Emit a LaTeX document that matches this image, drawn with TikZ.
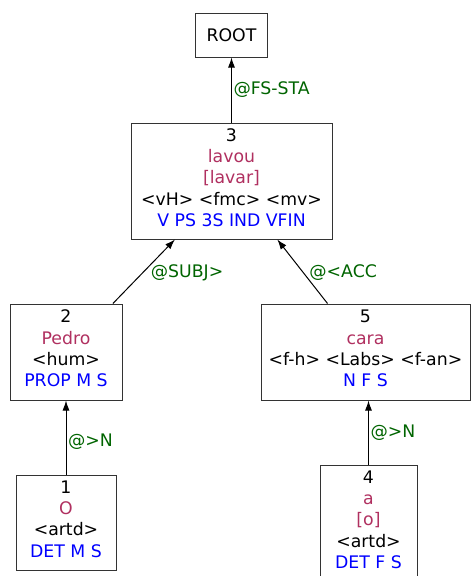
\documentclass[tikz,border=0pt]{standalone}
\usepackage{fontspec}
\setmainfont{DejaVu Sans}
\usetikzlibrary{arrows.meta}
\definecolor{wordc}{HTML}{B03060}
\definecolor{tagc}{HTML}{0000FF}
\definecolor{relc}{HTML}{006400}
\newcommand{\tokword}[1]{\textcolor{wordc}{#1}}
\newcommand{\toktag}[1]{\textcolor{tagc}{#1}\rule[-7pt]{0pt}{1pt}}
\begin{document}
\begin{tikzpicture}[x=1pt, y=-1pt, >={Latex[length=10pt,width=7pt]},
    tok/.style={draw=black!80, line width=1pt, align=center, inner sep=0pt,
      font=\fontsize{17.3}{21.3}\selectfont},
    rel/.style={right, text=relc, inner sep=1.5pt, font=\fontsize{17.3}{21}\selectfont},
    dep/.style={->, line width=1pt}]
  \useasboundingbox (0,0) rectangle (471,576);

  % knoten
  \node[tok, minimum width=72, minimum height=44] (root) at (231.5,35) {ROOT};
  \node[tok, minimum width=201, minimum height=116] (n3) at (231.5,181)
    {3\\ \tokword{lavou}\\ \tokword{[lavar]}\\ <vH> <fmc> <mv>\\ \toktag{V PS 3S IND VFIN}};
  \node[tok, minimum width=112, minimum height=96] (n2) at (66,352)
    {2\\ \tokword{Pedro}\\ <hum>\\ \toktag{PROP M S}};
  \node[tok, minimum width=209, minimum height=96] (n5) at (365.5,352)
    {5\\ \tokword{cara}\\ <f-h> <Labs> <f-an>\\ \toktag{N F S}};
  \node[tok, minimum width=100, minimum height=95] (n1) at (66,522.5)
    {1\\ \tokword{O}\\ <artd>\\ \toktag{DET M S}};
  \node[tok, minimum width=97, minimum height=116] (n4) at (368.5,523)
    {4\\ \tokword{a}\\ \tokword{[o]}\\ <artd>\\ \toktag{DET F S}};

  % kanten
  \draw[dep] (n3) -- node[rel] {@FS-STA} (root);
  \draw[dep] (n2) -- node[rel, xshift=5pt, yshift=-1pt] {@SUBJ>} (n3);
  \draw[dep] (n5) -- node[rel, xshift=5pt, yshift=-1pt] {@<ACC} (n3);
  \draw[dep] (n1) -- node[rel, pos=0.45] {@>N} (n2);
  \draw[dep] (n4.north) -- node[rel, pos=0.5] {@>N} (n4.north |- n5.south);
\end{tikzpicture}
\end{document}
